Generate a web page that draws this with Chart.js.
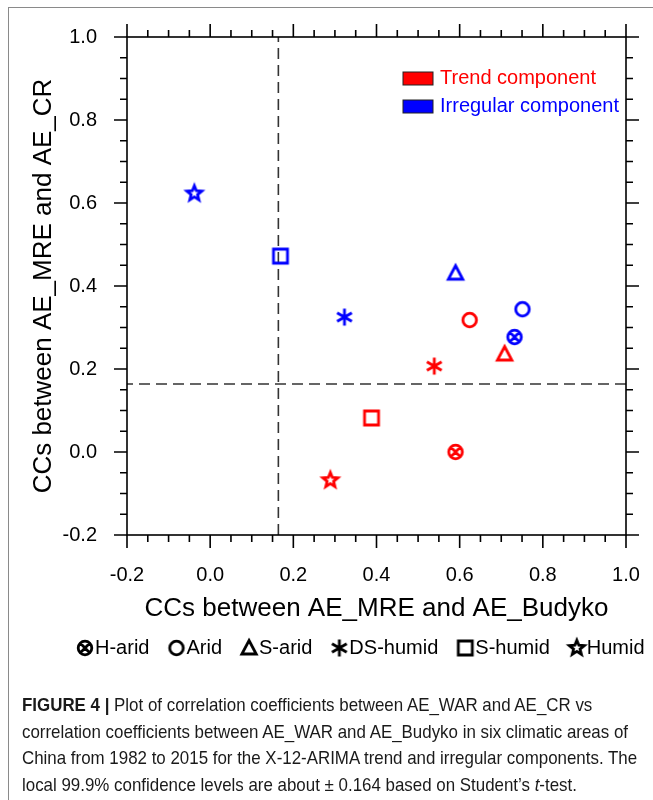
<!DOCTYPE html>
<html lang="en">

<head>
    <meta charset="UTF-8" />
    <title>Figure 4</title>
    <script src="https://cdn.jsdelivr.net/npm/chart.js"></script>
    <style>
        body { margin: 0; background: #fff; }
        .page { position: relative; width: 653px; height: 800px; overflow: hidden; }
        .frame {
            position: absolute; left: 8px; top: 7px; right: -10px; bottom: -10px;
            border-left: 1px solid #8a8a8a; border-top: 1px solid #8a8a8a; pointer-events: none;
        }
        #fig { position: absolute; left: 0; top: 0; }
        .caption {
            position: absolute; left: 22px; top: 692px; white-space: nowrap;
            font-family: "Liberation Sans", Arial, sans-serif;
            font-size: 18.5px; line-height: 26.7px; color: #1a1a1a;
            transform-origin: 0 0;
        }
        .caption span { display: inline-block; }
    </style>
</head>

<body>
    <div class="page">
        <canvas id="fig" width="653" height="680"></canvas>
        <div class="frame"></div>
        <div class="caption" id="caption">
            <span><b>FIGURE 4 |</b> Plot of correlation coefficients between AE_WAR and AE_CR vs</span><br>
            <span id="capLine2">correlation coefficients between AE_WAR and AE_Budyko in six climatic areas of</span><br>
            <span>China from 1982 to 2015 for the X-12-ARIMA trend and irregular components. The</span><br>
            <span>local 99.9% confidence levels are about ± 0.164 based on Student’s <i>t</i>-test.</span>
        </div>
    </div>

    <script>
    // climatic areas (one marker shape each)
    const regions = ['H-arid', 'Arid', 'S-arid', 'DS-humid', 'S-humid', 'Humid'];

    // CCs for the trend component (red)
    const trendX = [0.590, 0.624, 0.708, 0.539, 0.388, 0.289];
    const trendY = [0.000, 0.318, 0.236, 0.207, 0.082, -0.068];

    // CCs for the irregular component (blue)
    const irregX = [0.732, 0.751, 0.590, 0.323, 0.169, -0.038];
    const irregY = [0.277, 0.344, 0.431, 0.325, 0.472, 0.623];

    const components = ['Trend component', 'Irregular component'];
    const compColors = ['#ff0000', '#0000ff'];

    const tickValues = [-0.2, 0.0, 0.2, 0.4, 0.6, 0.8, 1.0];
    const threshold = 0.164; // 99.9% confidence level

    const FONT = '"Liberation Sans", Arial, sans-serif';
    Chart.defaults.font.family = FONT;
    Chart.defaults.color = '#000';

    // the caption font is condensed: squeeze it to the original line width
    const cap = document.getElementById('caption');
    const w2 = document.getElementById('capLine2').getBoundingClientRect().width;
    cap.style.transform = 'scaleX(' + (606 / w2) + ')';

    // draw a marker into a small canvas so chart.js can use it as pointStyle
    function makeMarker(shape, color) {
        const c = document.createElement('canvas');
        c.width = 24; c.height = 24;
        const g = c.getContext('2d');
        const m = 12;
        g.strokeStyle = color;
        g.lineWidth = 2.8;
        g.lineJoin = 'miter';
        g.beginPath();
        if (shape === 'H-arid') {
            g.arc(m, m, 6.8, 0, Math.PI * 2);
            const d = 4.4;
            g.moveTo(m - d, m - d); g.lineTo(m + d, m + d);
            g.moveTo(m + d, m - d); g.lineTo(m - d, m + d);
        } else if (shape === 'Arid') {
            g.arc(m, m, 6.8, 0, Math.PI * 2);
        } else if (shape === 'S-arid') {
            g.moveTo(m, m - 7.5);
            g.lineTo(m + 7.2, m + 6);
            g.lineTo(m - 7.2, m + 6);
            g.closePath();
        } else if (shape === 'DS-humid') {
            for (let k = 0; k < 3; k++) {
                const a = Math.PI / 2 + k * Math.PI / 3;
                g.moveTo(m + 8.5 * Math.cos(a), m + 8.5 * Math.sin(a));
                g.lineTo(m - 8.5 * Math.cos(a), m - 8.5 * Math.sin(a));
            }
        } else if (shape === 'S-humid') {
            g.rect(m - 7, m - 7, 14, 14);
        } else if (shape === 'Humid') {
            for (let k = 0; k < 10; k++) {
                const r = k % 2 === 0 ? 7.8 : 3.4;
                const a = -Math.PI / 2 + k * Math.PI / 5;
                const px = m + r * Math.cos(a), py = m + r * Math.sin(a);
                k === 0 ? g.moveTo(px, py) : g.lineTo(px, py);
            }
            g.closePath();
        }
        g.stroke();
        return c;
    }

    const redMarks = regions.map(r => makeMarker(r, compColors[0]));
    const blueMarks = regions.map(r => makeMarker(r, compColors[1]));
    const blackMarks = regions.map(r => makeMarker(r, '#000'));

    // box, dashed confidence lines, ticks and the two legends
    const figurePlugin = {
        id: 'figurePlugin',
        beforeDatasetsDraw(chart) {
            const { ctx, chartArea: a, scales: { x, y } } = chart;
            const px = x.getPixelForValue(threshold);
            const py = y.getPixelForValue(threshold);
            ctx.save();
            ctx.strokeStyle = '#333';
            ctx.lineWidth = 1.6;
            ctx.setLineDash([11, 6]);
            ctx.beginPath();
            ctx.moveTo(px, a.bottom); ctx.lineTo(px, a.top);
            ctx.moveTo(a.right, py); ctx.lineTo(a.left, py);
            ctx.stroke();
            ctx.restore();
        },
        afterDraw(chart) {
            const { ctx, chartArea: a, scales: { x, y } } = chart;
            ctx.save();
            ctx.strokeStyle = '#000';
            ctx.lineWidth = 1.6;
            ctx.strokeRect(a.left, a.top, a.right - a.left, a.bottom - a.top);

            // major + minor ticks, outward on all four sides
            ctx.beginPath();
            tickValues.forEach((v, i) => {
                const subs = [[v, 13]];
                if (i < tickValues.length - 1) {
                    const step = (tickValues[i + 1] - v) / 4;
                    for (let k = 1; k < 4; k++) subs.push([v + k * step, 7]);
                }
                subs.forEach(([t, len]) => {
                    const px = x.getPixelForValue(t);
                    const py = y.getPixelForValue(t);
                    ctx.moveTo(px, a.bottom); ctx.lineTo(px, a.bottom + len);
                    ctx.moveTo(px, a.top); ctx.lineTo(px, a.top - len);
                    ctx.moveTo(a.left, py); ctx.lineTo(a.left - len, py);
                    ctx.moveTo(a.right, py); ctx.lineTo(a.right + len, py);
                });
            });
            ctx.stroke();

            // inner legend (components)
            ctx.font = '20px ' + FONT;
            ctx.textBaseline = 'middle';
            components.forEach((name, i) => {
                const ly = a.top + 41 + i * 28;
                const lx = a.right - 223;
                ctx.fillStyle = compColors[i];
                ctx.fillRect(lx, ly - 6, 30, 13);
                ctx.lineWidth = 1;
                ctx.strokeStyle = '#222';
                ctx.strokeRect(lx, ly - 6, 30, 13);
                ctx.fillText(name, lx + 37, ly);
            });

            // bottom legend (marker shapes)
            let lx = 77;
            const ly = 648;
            ctx.fillStyle = '#000';
            regions.forEach((name, i) => {
                ctx.drawImage(blackMarks[i], lx + 8 - 12, ly - 12, 24, 24);
                ctx.fillText(name, lx + 18, ly);
                lx += 18 + ctx.measureText(name).width + 19;
            });
            ctx.restore();
        }
    };

    const ctx = document.getElementById('fig').getContext('2d');
    new Chart(ctx, {
        type: 'scatter',
        data: {
            datasets: [{
                label: components[0],
                data: trendX.map((v, i) => ({ x: v, y: trendY[i] })),
                pointStyle: redMarks,
                pointRadius: 9
            }, {
                label: components[1],
                data: irregX.map((v, i) => ({ x: v, y: irregY[i] })),
                pointStyle: blueMarks,
                pointRadius: 9
            }]
        },
        options: {
            responsive: false,
            animation: false,
            layout: { padding: { left: 0, top: 37, right: 27, bottom: 0 } },
            plugins: {
                legend: { display: false },
                tooltip: { enabled: false }
            },
            scales: {
                x: {
                    type: 'linear',
                    min: -0.2, max: 1.0,
                    afterBuildTicks: s => { s.ticks = tickValues.map(v => ({ value: v })); },
                    afterFit: s => { s.height = 145; s.paddingLeft = 0; s.paddingRight = 0; },
                    grid: { display: false },
                    border: { display: false },
                    ticks: { padding: 20, font: { size: 20 }, color: '#000', callback: v => v.toFixed(1) },
                    title: { display: true, text: 'CCs between AE_MRE and AE_Budyko', font: { size: 26 }, color: '#000', padding: { top: 0, bottom: 56 } }
                },
                y: {
                    type: 'linear',
                    min: -0.2, max: 1.0,
                    afterBuildTicks: s => { s.ticks = tickValues.map(v => ({ value: v })); },
                    afterFit: s => { s.width = 127; s.paddingTop = 0; s.paddingBottom = 0; },
                    grid: { display: false },
                    border: { display: false },
                    ticks: { padding: 22, font: { size: 20 }, color: '#000', callback: v => v.toFixed(1) },
                    title: { display: true, text: 'CCs between AE_MRE and AE_CR', font: { size: 26 }, color: '#000', padding: { top: 28, bottom: 0 } }
                }
            }
        },
        plugins: [figurePlugin]
    });
    </script>
</body>
</html>
